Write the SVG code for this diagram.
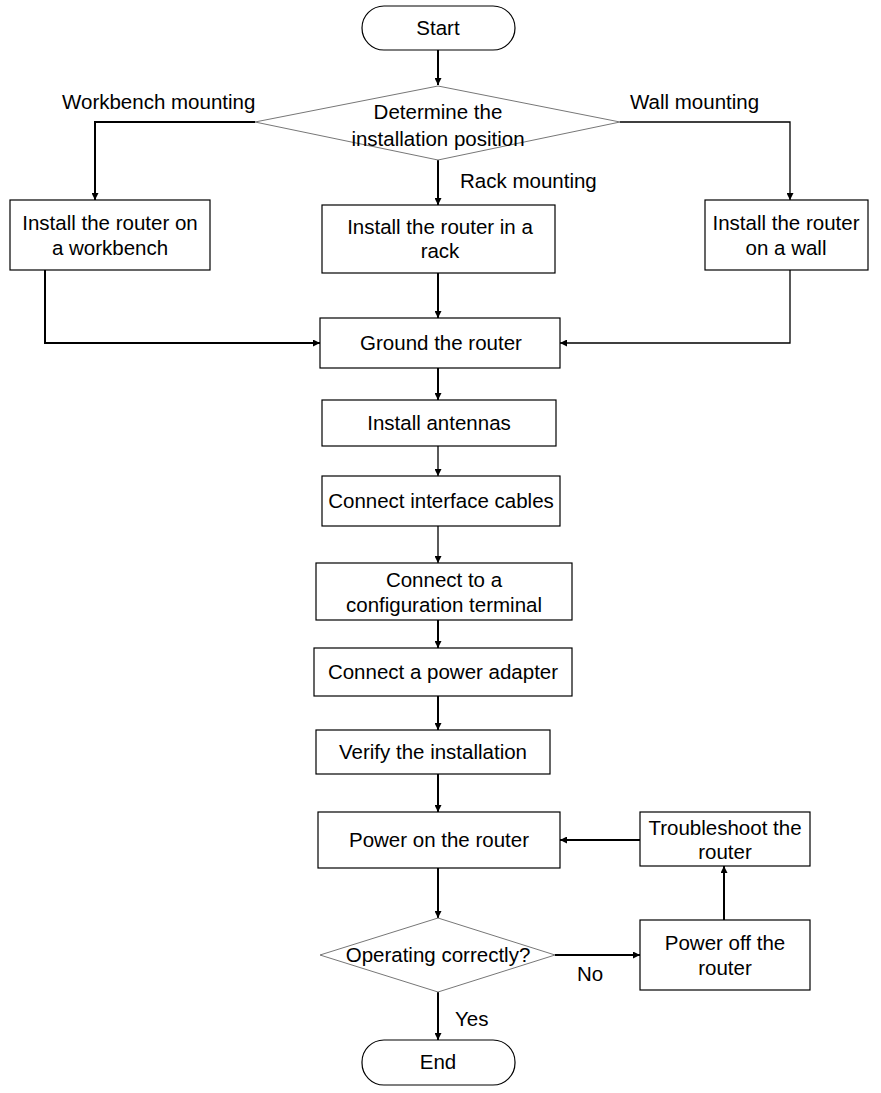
<svg xmlns="http://www.w3.org/2000/svg" width="881" height="1093" viewBox="0 0 881 1093">
<defs>
<marker id="ah" viewBox="0 0 10 10" refX="10" refY="5" markerWidth="7" markerHeight="7" orient="auto" markerUnits="userSpaceOnUse"><path d="M0,0 L10,5 L0,10 z" fill="#000"/></marker>
<style>
.b{fill:#fff;stroke:#000;stroke-width:1.2}
.d{fill:#fff;stroke:#777;stroke-width:1}
text{font-family:"Liberation Sans",Arial,sans-serif;font-size:20.5px;fill:#000;text-anchor:middle}
.l{text-anchor:start}
.c path{fill:none;stroke:#000;stroke-width:2}
</style>
</defs>
<rect width="881" height="1093" fill="#fff"/>
<g class="c" id="connectors">
<path d="M438,50 V85" marker-end="url(#ah)"/>
<path d="M255,122 H95 V200" marker-end="url(#ah)"/>
<path d="M438,160 V205" marker-end="url(#ah)"/>
<path d="M620,122 H790 V200" marker-end="url(#ah)" style="stroke-width:1.3"/>
<path d="M438,273 V318" marker-end="url(#ah)"/>
<path d="M45,270 V343 H320" marker-end="url(#ah)"/>
<path d="M790,270 V343 H560" marker-end="url(#ah)" style="stroke-width:1.3"/>
<path d="M438,368 V400" marker-end="url(#ah)"/>
<path d="M438,446 V476" marker-end="url(#ah)" style="stroke-width:1.3"/>
<path d="M438,526 V563" marker-end="url(#ah)" style="stroke-width:1.3"/>
<path d="M438,620 V648" marker-end="url(#ah)"/>
<path d="M438,696 V730" marker-end="url(#ah)"/>
<path d="M438,774 V812" marker-end="url(#ah)"/>
<path d="M438,868 V918" marker-end="url(#ah)"/>
<path d="M555,955 H640" marker-end="url(#ah)"/>
<path d="M724,920 V866" marker-end="url(#ah)"/>
<path d="M640,840 H560" marker-end="url(#ah)"/>
<path d="M438,992 V1040" marker-end="url(#ah)"/>
</g>
<g id="start"><rect class="b" x="362" y="6" width="153" height="44" rx="22"/><text x="438" y="35">Start</text></g>
<g id="decide"><polygon class="d" points="438,86 620,122 438,160 255,122"/><text x="438" y="119">Determine the</text><text x="438" y="146">installation position</text></g>
<g id="labels"><text class="l" x="62" y="109">Workbench mounting</text><text class="l" x="630" y="109">Wall mounting</text><text class="l" x="460" y="188">Rack mounting</text><text class="l" x="577" y="981">No</text><text class="l" x="455" y="1026">Yes</text></g>
<g id="workbench"><rect class="b" x="10" y="200" width="200" height="70"/><text x="110" y="230">Install the router on</text><text x="110" y="255">a workbench</text></g>
<g id="rack"><rect class="b" x="322" y="205" width="233" height="68"/><text x="440" y="234">Install the router in a</text><text x="440" y="258">rack</text></g>
<g id="wall"><rect class="b" x="705" y="200" width="163" height="70"/><text x="786" y="230">Install the router</text><text x="786" y="255">on a wall</text></g>
<g id="ground"><rect class="b" x="320" y="318" width="240" height="50"/><text x="441" y="350">Ground the router</text></g>
<g id="antennas"><rect class="b" x="322" y="400" width="234" height="46"/><text x="439" y="430">Install antennas</text></g>
<g id="cables"><rect class="b" x="322" y="476" width="238" height="50"/><text x="441" y="508">Connect interface cables</text></g>
<g id="terminal"><rect class="b" x="316" y="563" width="256" height="57"/><text x="444" y="587">Connect to a</text><text x="444" y="612">configuration terminal</text></g>
<g id="power"><rect class="b" x="314" y="648" width="258" height="48"/><text x="443" y="679">Connect a power adapter</text></g>
<g id="verify"><rect class="b" x="316" y="730" width="234" height="44"/><text x="433" y="759">Verify the installation</text></g>
<g id="poweron"><rect class="b" x="318" y="812" width="242" height="56"/><text x="439" y="847">Power on the router</text></g>
<g id="operating"><polygon class="d" points="438,918 555,955 438,992 320,955"/><text x="438" y="962">Operating correctly?</text></g>
<g id="poweroff"><rect class="b" x="640" y="920" width="170" height="70"/><text x="725" y="950">Power off the</text><text x="725" y="975">router</text></g>
<g id="trouble"><rect class="b" x="640" y="812" width="170" height="54"/><text x="725" y="835">Troubleshoot the</text><text x="725" y="859">router</text></g>
<g id="end"><rect class="b" x="362" y="1040" width="153" height="45" rx="22"/><text x="438" y="1069">End</text></g>
</svg>
